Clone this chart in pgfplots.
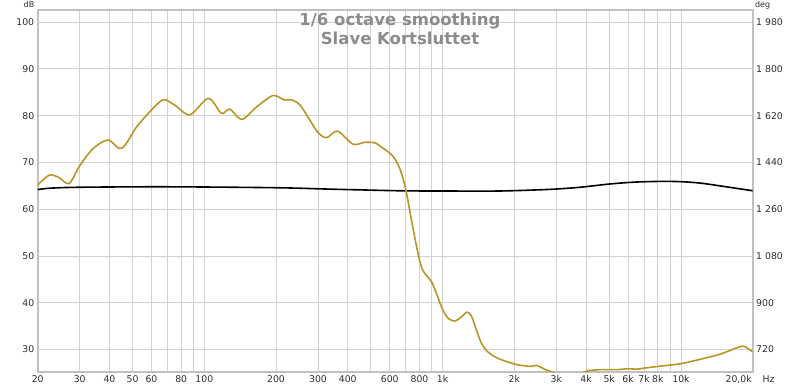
\documentclass[border=0pt]{standalone}
\usepackage{fontspec}
\setmainfont{DejaVu Sans}
\usepackage{pgfplots}
\pgfplotsset{compat=1.18}
\definecolor{gold}{RGB}{184,150,38}
\definecolor{gridc}{RGB}{210,210,210}
\definecolor{framec}{RGB}{192,192,192}
\definecolor{titlec}{RGB}{140,140,140}
\definecolor{tickc}{RGB}{45,45,45}
\begin{document}
\begin{tikzpicture}
\begin{axis}[
  name=main,
  at={(0,0)}, anchor=south west,
  scale only axis, width=715pt, height=362pt,
  xmode=log, xmin=20, xmax=20000, ymin=25.2, ymax=102.6,
  xtick={20,30,40,50,60,70,80,90,100,200,300,400,500,600,700,800,900,1000,2000,3000,4000,5000,6000,7000,8000,9000,10000,20000},
  xticklabels={20,30,40,50,60,,80,,100,200,300,400,,600,,800,,1k,2k,3k,4k,5k,6k,7k,8k,,10k,{\llap{20,0k\hspace{1pt}}\rlap{\hspace{10pt}Hz}}},
  ytick={30,40,50,60,70,80,90,100},
  major tick length=0,
  grid=major,
  major grid style={gridc, line width=0.9pt},
  axis line style={framec, line width=2pt},
  tick label style={font=\fontsize{9.3}{11}\selectfont, text=tickc},
  /pgf/number format/assume math mode=true,
  clip=true,
]
\addplot[black, line width=1.6pt, smooth, tension=0.5] coordinates {
(20,64.2) (22.5,64.5) (30,64.7) (69,64.8) (200,64.6) (336,64.3) (660,63.95) (1000,63.9) (1738,63.9) (2820,64.25) (3770,64.7) (5030,65.4) (6400,65.8) (8160,65.95) (9900,65.9) (12000,65.6) (14560,65.0) (20000,63.95)
};
\addplot[gold, line width=1.6pt, smooth, tension=0.5] coordinates {
(20,65.2) (22.4,67.3) (24.5,66.8) (27.1,65.5) (30,69.3) (34.2,73.0) (39.5,74.8) (45,73.0) (52,77.6) (59.2,80.9) (67.2,83.4) (75,82.3) (87,80.2) (104,83.7) (118,80.5) (128,81.4) (143.6,79.2) (166,81.9) (194,84.3) (216,83.4) (232,83.4) (252,82.3) (277,79.1) (300,76.4) (326,75.3) (362,76.7) (421,73.9) (470,74.3) (520,74.2) (550,73.4) (600,72.0) (630,70.8) (660,68.8) (685,66.2) (706,63.4) (740,57.7) (778,52.0) (814,47.7) (850,46.0) (898,44.5) (950,41.5) (1003,38.4) (1060,36.6) (1126,36.1) (1200,37.0) (1266,38.0) (1320,37.2) (1388,34.1) (1450,31.5) (1526,29.8) (1650,28.5) (1790,27.7) (2040,26.8) (2330,26.4) (2480,26.6) (2730,25.6) (3000,25.0) (3300,24.4) (3700,24.6) (4020,25.4) (4560,25.7) (5370,25.7) (6000,25.9) (6520,25.8) (7170,26.1) (8700,26.6) (10050,27.0) (12000,27.9) (14560,29.0) (17660,30.6) (18540,30.6) (20000,29.5)
};
\node[anchor=base, font=\bfseries\fontsize{16.5}{18}\selectfont, text=titlec] at (rel axis cs:0.5067,0.958) {1/6 octave smoothing};
\node[anchor=base, font=\bfseries\fontsize{16.5}{18}\selectfont, text=titlec] at (rel axis cs:0.5067,0.905) {Slave Kortsluttet};
\end{axis}
\begin{axis}[
  at={(0,0)}, anchor=south west,
  scale only axis, width=715pt, height=362pt,
  xmode=log, xmin=20, xmax=20000, ymin=633.6, ymax=2026.8,
  axis x line=none, axis y line*=right,
  axis line style={draw=none},
  ytick={720,900,1080,1260,1440,1620,1800,1980},
  yticklabels={720,900,1 080,1 260,1 440,1 620,1 800,1 980},
  major tick length=0,
  tick label style={font=\fontsize{9.3}{11}\selectfont, text=tickc},
  /pgf/number format/assume math mode=true,
]
\end{axis}
\node[font=\fontsize{8}{9}\selectfont, text=tickc] at ([xshift=-8.7pt,yshift=5pt]main.north west) {dB};
\node[font=\fontsize{8}{9}\selectfont, text=tickc] at ([xshift=10pt,yshift=5pt]main.north east) {deg};
\pgfresetboundingbox
\path[use as bounding box] (-37.7pt,-15pt) rectangle (762.3pt,372pt);
\end{tikzpicture}
\end{document}
